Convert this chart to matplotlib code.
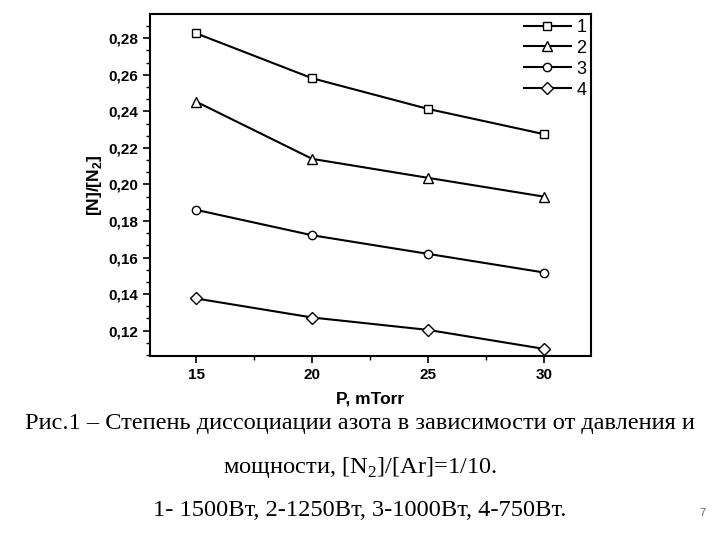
import matplotlib
matplotlib.use("Agg")
import matplotlib.pyplot as plt
from matplotlib.ticker import FuncFormatter, MultipleLocator, AutoMinorLocator

pressure = [15, 20, 25, 30]
series_labels = ["1", "2", "3", "4"]
s1 = [0.2827, 0.2581, 0.2413, 0.2275]
s2 = [0.2453, 0.2140, 0.2036, 0.1933]
s3 = [0.1861, 0.1722, 0.1620, 0.1518]
s4 = [0.1376, 0.1272, 0.1204, 0.1100]
series = [s1, s2, s3, s4]
markers = ["s", "^", "o", "D"]
msizes = [6, 7, 6, 6]

fig = plt.figure(figsize=(7.2, 5.4), dpi=100)
ax = fig.add_axes([0.208, 0.3413, 0.6124, 0.6322])

for vals, lab, m, ms in zip(series, series_labels, markers, msizes):
    ax.plot(pressure, vals, color="black", lw=1.5, marker=m, ms=ms,
            mfc="white", mec="black", mew=1.0, label=lab)

ax.set_xlim(13.0, 32.0)
ax.set_ylim(0.1063, 0.2931)
ax.xaxis.set_major_locator(MultipleLocator(5))
ax.xaxis.set_minor_locator(AutoMinorLocator(2))
ax.yaxis.set_major_locator(MultipleLocator(0.02))
ax.yaxis.set_minor_locator(AutoMinorLocator(3))
ax.yaxis.set_major_formatter(FuncFormatter(lambda v, p: f"{v:.2f}".replace(".", ",")))
ax.xaxis.set_major_formatter(FuncFormatter(lambda v, p: f"{v:.0f}"))

for sp in ax.spines.values():
    sp.set_linewidth(1.5)
ax.tick_params(which="major", length=5, width=1.2, direction="out", labelsize=11)
ax.tick_params(which="minor", length=3, width=1.0, direction="out")
for t in ax.get_xticklabels() + ax.get_yticklabels():
    t.set_fontfamily("Liberation Sans")
    t.set_fontweight("bold")

ax.set_xlabel("P, mTorr", fontsize=12.5, fontweight="bold", family="Liberation Sans", labelpad=7)
ax.set_ylabel(r"[N]/[N$_{\mathregular{2}}$]", fontsize=12.5, fontweight="bold",
              family="Liberation Sans", labelpad=3)

leg = ax.legend(loc="upper right", frameon=False, fontsize=13, handlelength=2.6,
                borderaxespad=0.05, labelspacing=0.22, handletextpad=0.3,
                borderpad=0.2)
for t in leg.get_texts():
    t.set_fontfamily("Liberation Sans")

cap = dict(family="Liberation Serif", fontsize=17.6, ha="center", va="center")
fig.text(0.5, 1 - 423 / 540, "Рис.1 – Степень диссоциации азота в зависимости от давления и", **cap)
fig.text(0.5, 1 - 467 / 540, r"мощности, [N$_{\mathregular{2}}$]/[Ar]=1/10.", **cap)
fig.text(0.5, 1 - 511 / 540, "1- 1500Вт, 2-1250Вт, 3-1000Вт, 4-750Вт.", **cap)
fig.text(702 / 720, 1 - 513 / 540, "7", family="Liberation Sans", fontsize=8, color="#666666",
         ha="center", va="center")

fig.savefig("out.png", dpi=100)
